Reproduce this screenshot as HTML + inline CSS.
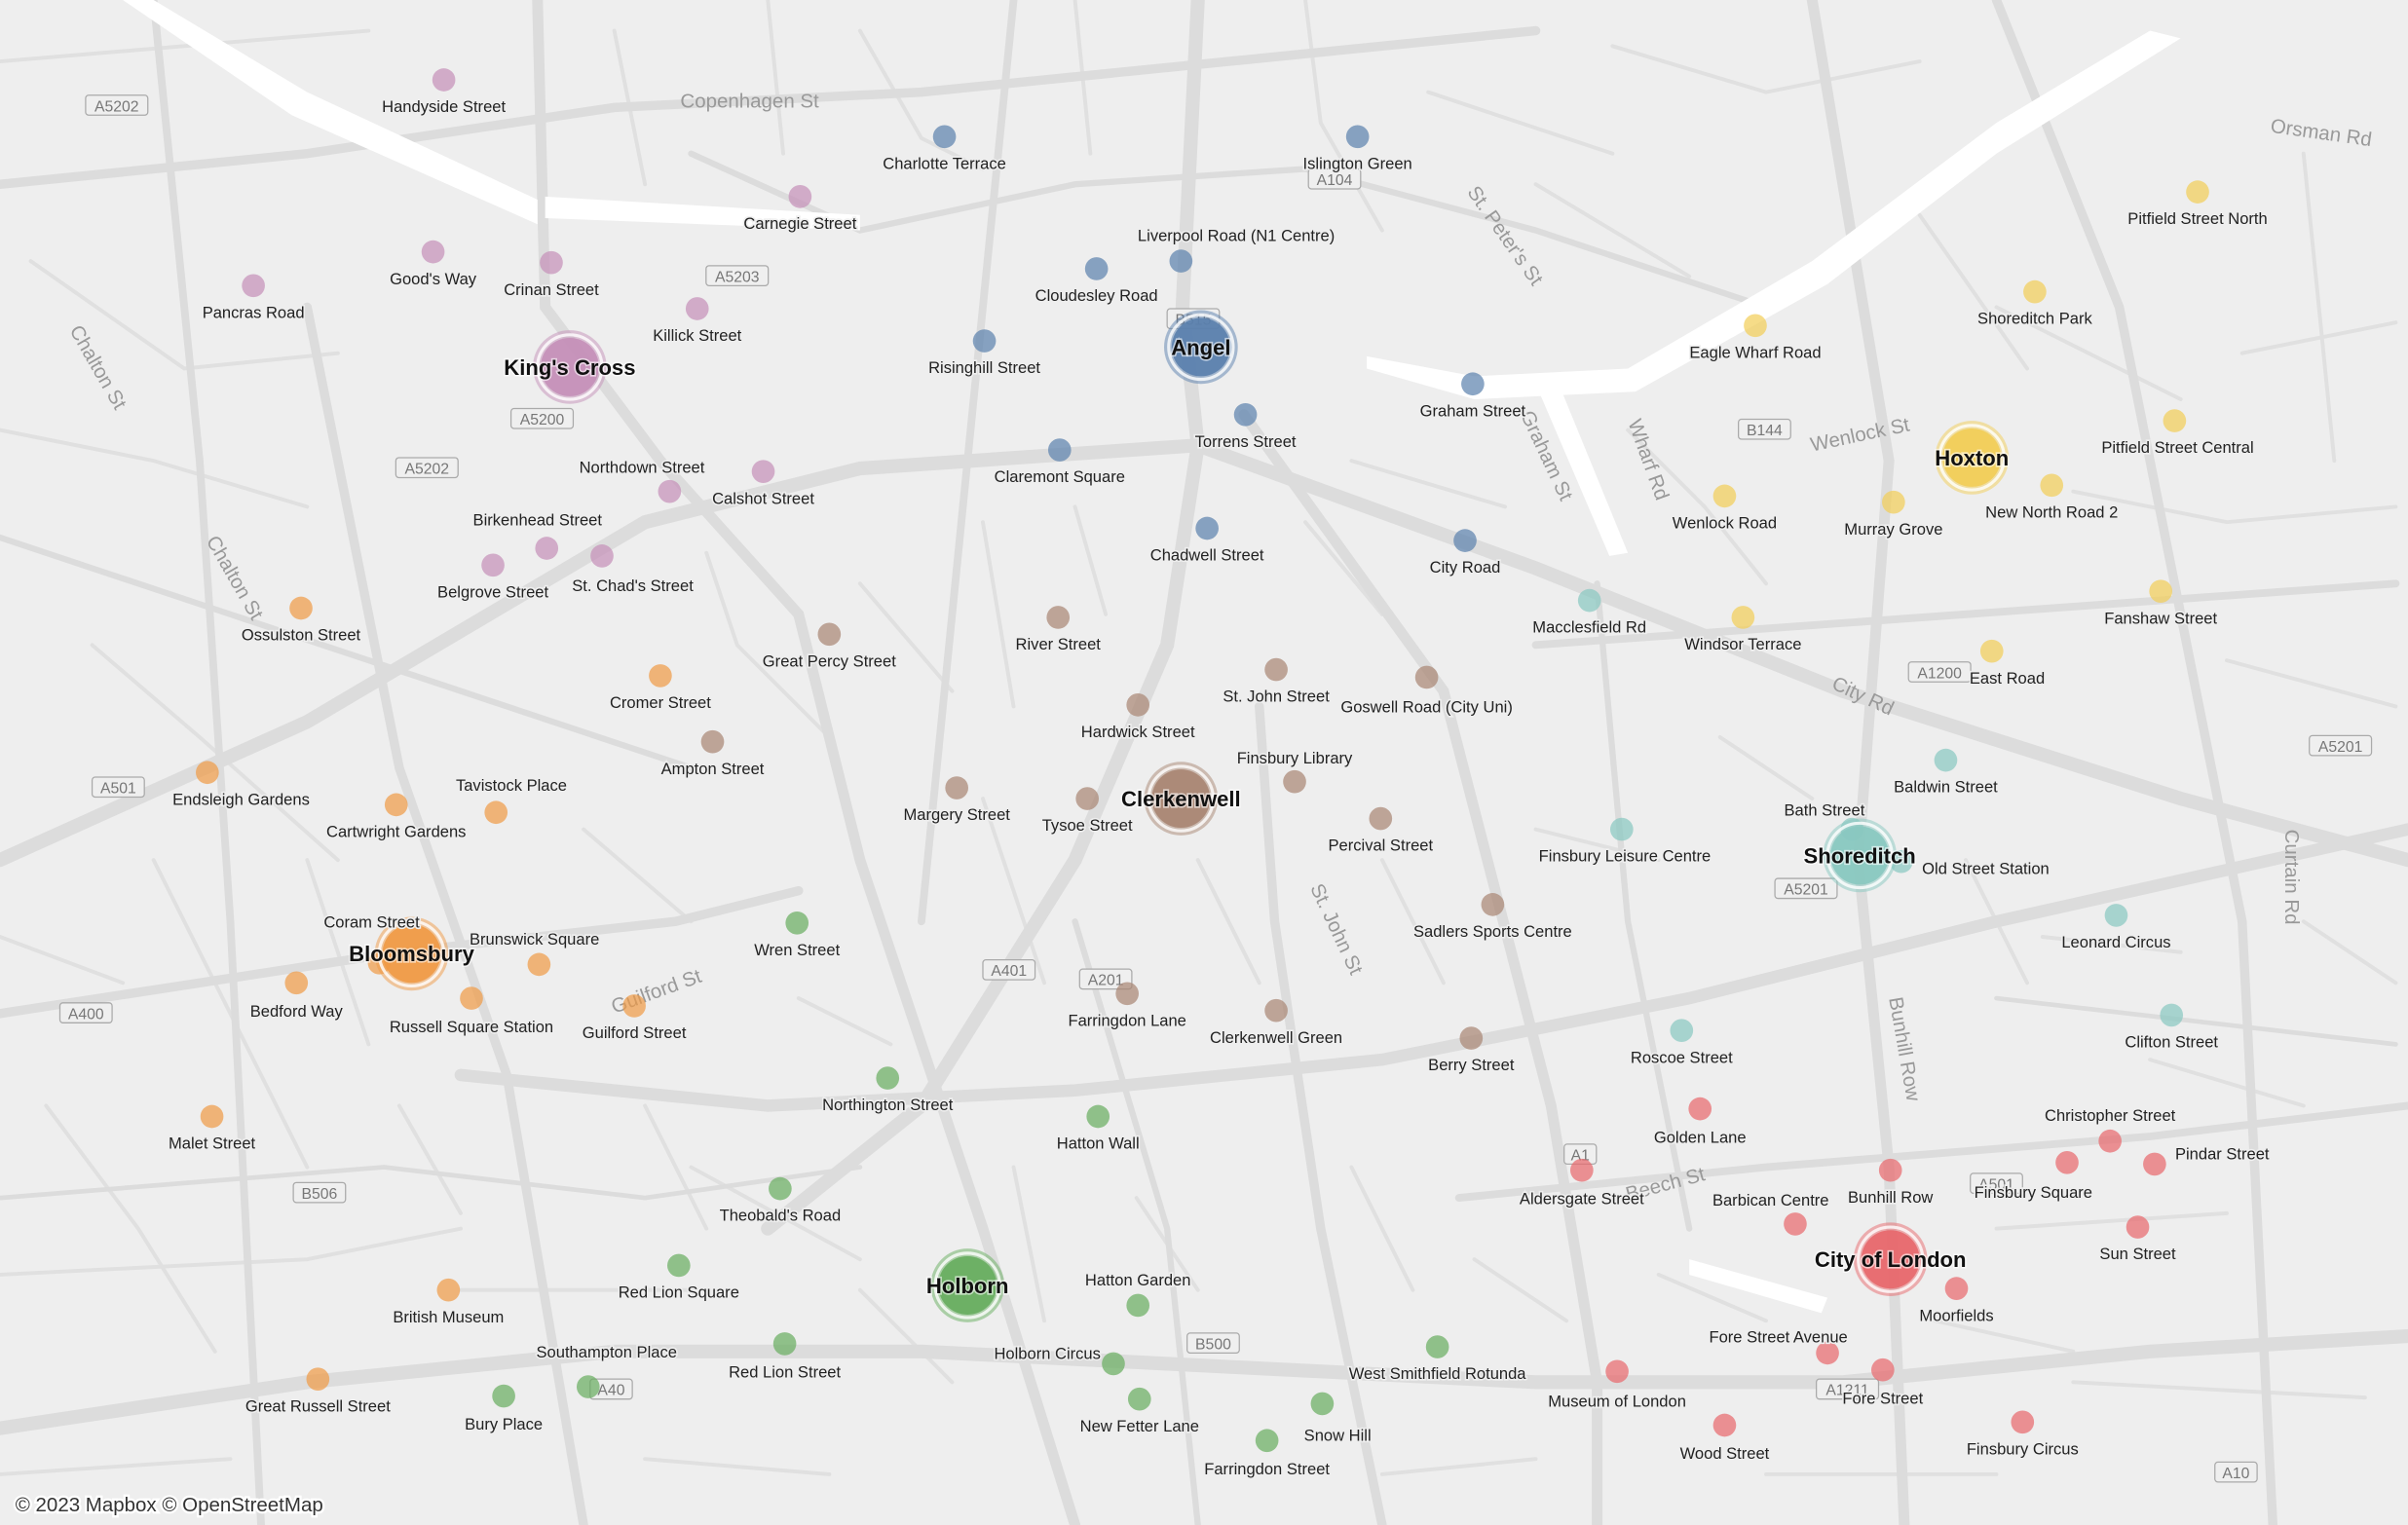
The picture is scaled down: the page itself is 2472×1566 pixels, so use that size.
<!DOCTYPE html>
<html><head><meta charset="utf-8"><style>
html,body{margin:0;padding:0;background:#eeeeee;}
svg{display:block;}
text{font-family:"Liberation Sans",sans-serif;}
.lbl{font-size:10.5px;fill:#222;paint-order:stroke;stroke:#eeeeee;stroke-width:2px;text-anchor:middle;}
.hub{font-size:14px;font-weight:bold;fill:#111;paint-order:stroke;stroke:rgba(255,255,255,0.6);stroke-width:2px;text-anchor:middle;}
.st{font-size:13px;fill:#999;}
.rd{stroke:#dcdcdc;fill:none;stroke-linecap:round;}
.mn{stroke:#e0e0e0;fill:none;stroke-width:2.5;stroke-linecap:round;}
.shield{fill:#efefef;stroke:#aaa;stroke-width:0.8;}
.sh{font-size:10px;fill:#777;text-anchor:middle;}
</style></head><body>
<svg id="map" width="2472" height="1566" viewBox="0 0 1568 993" preserveAspectRatio="none" xmlns="http://www.w3.org/2000/svg">
<rect width="1568" height="993" fill="#eeeeee"/>
<g id="roads">
<g class="minor">
<path class="mn" d="M0,40 L120,30 L240,20 M20,170 L120,240 L220,230 M0,280 L100,300 L200,330 M60,420 L130,480 L220,560 M0,610 L80,640 M30,720 L90,800 L140,880 M0,830 L200,820 L300,800"/>
<path class="mn" d="M400,20 L420,120 M500,0 L510,100 M560,20 L600,90 L640,110 M700,0 L710,100 M850,0 L860,80 L900,150 M930,60 L1050,100 M1000,120 L1100,180 M1050,30 L1150,60 L1250,40"/>
<path class="mn" d="M460,360 L480,420 L540,480 M560,380 L620,450 M640,340 L660,460 M700,330 L720,400 M850,340 L900,400 M880,300 L980,330 M1060,280 L1110,330 L1150,380"/>
<path class="mn" d="M1300,200 L1420,260 M1250,140 L1320,240 M1350,320 L1450,340 L1560,330 M1460,230 L1560,210 M1500,100 L1520,300 M1450,430 L1560,460"/>
<path class="mn" d="M380,540 L450,600 M200,560 L240,680 M100,560 L160,680 L200,760 M260,720 L300,790 M420,720 L460,800 M520,650 L580,680 M640,520 L680,640"/>
<path class="mn" d="M780,560 L820,640 M900,560 L940,640 M1000,540 L1080,560 M1120,480 L1180,520 M1280,560 L1320,640 M1330,610 L1420,620 M1500,600 L1560,640 M1400,690 L1500,720"/>
<path class="mn" d="M300,840 L450,840 M450,760 L560,820 M560,840 L620,900 M660,760 L680,860 M740,780 L780,840 M880,760 L920,840 M960,820 L1020,860 M1080,830 L1150,860 M1260,860 L1350,880 M1300,800 L1450,790"/>
<path class="mn" d="M0,960 L150,950 M420,950 L540,960 M900,960 L1000,950 M1150,960 L1300,960 M1350,900 L1540,910"/>
</g>
<path class="rd" stroke-width="9" d="M0,560 L200,470 L420,340 L560,305 L780,290 L1000,370 L1200,450 L1420,520 L1568,560"/>
<path class="rd" stroke-width="9" d="M780,0 L770,200 L780,290 L760,420 L700,560 L600,720 L500,800"/>
<path class="rd" stroke-width="9" d="M0,930 L200,900 L400,880 L600,880 L800,890 L1000,900 L1200,900 L1400,880 L1568,870"/>
<path class="rd" stroke-width="8" d="M300,700 L500,720 L700,710 L900,690 L1100,650 L1300,600 L1568,540"/>
<path class="rd" stroke-width="7" d="M810,270 L940,450 L1010,720 L1040,900 L1040,993"/>
<path class="rd" stroke-width="7" d="M1180,0 L1230,300 L1210,560 L1230,760 L1240,993"/>
<path class="rd" stroke-width="7" d="M350,0 L355,200 L430,300 L520,400 L560,560 L640,800 L700,993"/>
<path class="rd" stroke-width="6" d="M0,120 L200,100 L400,70 L600,60 L800,40 L1000,20"/>
<path class="rd" stroke-width="6" d="M1300,0 L1380,200 L1420,400 L1460,600 L1480,993"/>
<path class="rd" stroke-width="6" d="M200,200 L260,500 L330,700 L380,993"/>
<path class="rd" stroke-width="6" d="M0,660 L260,620 L440,600 L520,580"/>
<path class="rd" stroke-width="6" d="M900,993 L860,800 L830,600 L820,460"/>
<path class="rd" stroke-width="5" d="M660,0 L640,200 L620,400 L600,600"/>
<path class="rd" stroke-width="5" d="M1000,420 L1560,380"/>
<path class="rd" stroke-width="5" d="M950,780 L1150,760 L1400,740 L1568,720"/>
<path class="rd" stroke-width="5" d="M100,0 L130,300 L150,600 L170,993"/>
<path class="rd" stroke-width="4" d="M0,350 L150,400 L300,450 L450,500"/>
<path class="rd" stroke-width="4" d="M700,600 L760,800 L780,993"/>
<path class="rd" stroke-width="4" d="M1040,380 L1060,600 L1100,800"/>
<path class="rd" stroke-width="4" d="M450,100 L560,150 L700,120 L850,110 L1000,150 L1150,200"/>
<path class="rd" stroke-width="3" d="M0,780 L250,760 L420,780 L560,760"/>
<path class="rd" stroke-width="3" d="M1300,650 L1560,680"/>
<path fill="#ffffff" d="M80,0 L100,0 L200,60 L350,130 L350,146 L190,75 Z"/>
<path fill="#ffffff" d="M355,128 L560,140 L560,150 L355,142 Z"/>
<path fill="#ffffff" d="M890,232 L960,245 L1060,240 L1180,170 L1300,80 L1400,20 L1420,25 L1300,100 L1190,185 L1065,255 L960,260 L890,240 Z"/>
<path fill="#ffffff" d="M1000,250 L1015,250 L1060,360 L1048,362 Z"/>
<path fill="#ffffff" d="M1100,820 L1190,845 L1186,855 L1100,830 Z"/>
</g>
<g id="street-names">
<text class="st" x="443" y="70">Copenhagen St</text>
<text class="st" x="1478" y="86" transform="rotate(8 1478 86)">Orsman Rd</text>
<text class="st" x="1180" y="294" transform="rotate(-12 1180 294)">Wenlock St</text>
<text class="st" x="1192" y="448" transform="rotate(25 1192 448)">City Rd</text>
<text class="st" x="400" y="660" transform="rotate(-20 400 660)">Guilford St</text>
<text class="st" x="1060" y="782" transform="rotate(-15 1060 782)">Beech St</text>
<text class="st" x="955" y="125" transform="rotate(55 955 125)">St. Peter's St</text>
<text class="st" x="45" y="215" transform="rotate(60 45 215)">Chalton St</text>
<text class="st" x="134" y="352" transform="rotate(60 134 352)">Chalton St</text>
<text class="st" x="1230" y="650" transform="rotate(80 1230 650)">Bunhill Row</text>
<text class="st" x="1488" y="540" transform="rotate(90 1488 540)">Curtain Rd</text>
<text class="st" x="990" y="270" transform="rotate(65 990 270)">Graham St</text>
<text class="st" x="1060" y="275" transform="rotate(70 1060 275)">Wharf Rd</text>
<text class="st" x="853" y="578" transform="rotate(65 853 578)">St. John St</text>
</g>
<g id="shields"></g>
<g id="points"></g>
<text x="10" y="984" font-size="13" fill="#333" style="paint-order:stroke;stroke:#fff;stroke-width:3px">© 2023 Mapbox © OpenStreetMap</text>
</svg>
<script>
const groups = ["kings-cross","angel","clerkenwell","bloomsbury","holborn","shoreditch","hoxton","city"];
const groupColors = ["#c48fb8","#5a80ad","#a88572","#f09a45","#66ad5e","#88c8c0","#f2cd55","#e8676b"];
const hubNames = ["King's Cross","Angel","Clerkenwell","Bloomsbury","Holborn","Shoreditch","Hoxton","City of London"];
const hubX = [371,782,769,268,630,1211,1284,1231];
const hubY = [239,226,520,621,837,557,298,820];
const stationNames = ["Handyside Street","Carnegie Street","Good's Way","Crinan Street","Pancras Road","Killick Street","Northdown Street","Calshot Street","Birkenhead Street","Belgrove Street","St. Chad's Street",
"Charlotte Terrace","Islington Green","Liverpool Road (N1 Centre)","Cloudesley Road","Risinghill Street","Torrens Street","Graham Street","Claremont Square","Chadwell Street","City Road",
"River Street","Great Percy Street","St. John Street","Goswell Road (City Uni)","Hardwick Street","Ampton Street","Finsbury Library","Margery Street","Tysoe Street","Percival Street","Sadlers Sports Centre","Farringdon Lane","Clerkenwell Green","Berry Street",
"Ossulston Street","Cromer Street","Endsleigh Gardens","Cartwright Gardens","Tavistock Place","Coram Street","Brunswick Square","Bedford Way","Russell Square Station","Guilford Street","Malet Street","British Museum","Great Russell Street",
"Wren Street","Northington Street","Hatton Wall","Theobald's Road","Red Lion Square","Hatton Garden","West Smithfield Rotunda","Holborn Circus","Red Lion Street","Southampton Place","Bury Place","New Fetter Lane","Snow Hill","Farringdon Street",
"Macclesfield Rd","Baldwin Street","Bath Street","Finsbury Leisure Centre","Old Street Station","Leonard Circus","Clifton Street","Roscoe Street",
"Pitfield Street North","Shoreditch Park","Eagle Wharf Road","Pitfield Street Central","New North Road 2","Wenlock Road","Murray Grove","Fanshaw Street","Windsor Terrace","East Road",
"Golden Lane","Christopher Street","Pindar Street","Bunhill Row","Finsbury Square","Aldersgate Street","Barbican Centre","Sun Street","Moorfields","Fore Street Avenue","Fore Street","Museum of London","Wood Street","Finsbury Circus"];
const stationGroup = [0,0,0,0,0,0,0,0,0,0,0, 1,1,1,1,1,1,1,1,1,1, 2,2,2,2,2,2,2,2,2,2,2,2,2,2, 3,3,3,3,3,3,3,3,3,3,3,3,3, 4,4,4,4,4,4,4,4,4,4,4,4,4,4, 5,5,5,5,5,5,5,5, 6,6,6,6,6,6,6,6,6,6, 7,7,7,7,7,7,7,7,7,7,7,7,7,7];
const stationX = [289,521,282,359,165,454,436,497,356,321,392, 615,884,769,714,641,811,959,690,786,954, 689,540,831,929,741,464,843,623,708,899,972,734,831,958, 196,430,135,258,323,247,351,193,307,413,138,292,207, 519,578,715,508,442,741,936,725,511,383,328,742,861,825, 1035,1267,1206,1056,1238,1378,1414,1095, 1431,1325,1143,1416,1336,1123,1233,1407,1135,1297, 1107,1374,1403,1231,1346,1030,1169,1392,1274,1190,1226,1053,1123,1317];
const stationY = [52,128,164,171,186,201,320,307,357,368,362, 89,89,170,175,222,270,250,293,344,352, 402,413,436,441,459,483,509,513,520,533,589,647,658,676, 396,440,503,524,529,627,628,640,650,655,727,840,898, 601,702,727,774,824,850,877,888,875,903,909,911,914,938, 391,495,540,540,561,596,661,671, 125,190,212,274,316,323,327,385,402,424, 722,743,758,762,757,762,797,799,839,881,892,893,928,926];
const labelDX = [0,0,0,0,0,0,-18,0,-6,0,20, 0,0,36,0,0,0,0,0,0,0, 0,0,0,0,0,0,0,0,0,0,0,0,0,0, 0,0,22,0,10,-5,-3,0,0,0,0,0,0, 0,0,0,0,0,0,0,-43,0,12,0,0,10,0, 0,0,-18,2,55,0,0,0, 0,0,0,2,0,0,0,0,0,10, 0,0,44,0,-22,0,-16,0,0,-32,0,0,0,0];
const labelDY = [21,21,21,21,21,21,-12,21,-15,21,23, 21,21,-13,21,21,21,21,21,21,21, 21,21,21,23,21,21,-12,21,21,21,21,21,21,21, 21,21,21,21,-14,-23,-13,22,22,21,21,21,21, 21,21,21,21,21,-13,21,-3,22,-19,22,21,24,22, 21,21,-9,21,8,21,21,21, 21,21,21,21,21,21,21,21,21,21, 22,-13,-3,21,23,22,-12,21,21,-7,22,23,22,21];
const shieldNames = ["A5202","A5203","A5200","A5202","A501","A400","B506","A401","A201","B500","A40","A104","B515","B144","A1200","A5201","A5201","A1","A501","A1211","A10"];
const shieldX = [76,480,353,278,77,56,208,657,720,790,398,869,777,1149,1263,1176,1524,1029,1300,1203,1456];
const shieldY = [69,180,273,305,513,660,777,632,638,875,905,117,208,280,438,579,486,752,771,905,959];

const proj = {x: v => v, y: v => v};
const svgNS = "http://www.w3.org/2000/svg";
const shieldsG = document.getElementById('shields');
shieldNames.forEach((s,i)=>{
  const w = s.length*6.5+8, cx = proj.x(shieldX[i]), cy = proj.y(shieldY[i]);
  const r = document.createElementNS(svgNS,'rect');
  r.setAttribute('x',cx-w/2); r.setAttribute('y',cy-7); r.setAttribute('width',w); r.setAttribute('height',13); r.setAttribute('rx',2);
  r.setAttribute('class','shield');
  
  
  shieldsG.appendChild(r);
  const t = document.createElementNS(svgNS,'text');
  t.setAttribute('x',cx); t.setAttribute('y',cy+3.5); t.setAttribute('class','sh'); t.textContent = s;
  
  
  shieldsG.appendChild(t);
});
const ptsG = document.getElementById('points');
stationNames.forEach((n,i)=>{
  const cx = proj.x(stationX[i]), cy = proj.y(stationY[i]);
  const c = document.createElementNS(svgNS,'circle');
  c.setAttribute('cx',cx); c.setAttribute('cy',cy); c.setAttribute('r',7.5);
  c.setAttribute('fill',groupColors[stationGroup[i]]); c.setAttribute('fill-opacity','0.7');
  
  
  ptsG.appendChild(c);
});
hubNames.forEach((n,i)=>{
  const cx = proj.x(hubX[i]), cy = proj.y(hubY[i]);
  const o = document.createElementNS(svgNS,'circle');
  o.setAttribute('cx',cx); o.setAttribute('cy',cy); o.setAttribute('r',24);
  o.setAttribute('fill',groupColors[i]); o.setAttribute('fill-opacity','0.5');
  
  
  ptsG.appendChild(o);
  const ring = document.createElementNS(svgNS,'circle');
  ring.setAttribute('cx',cx); ring.setAttribute('cy',cy); ring.setAttribute('r',21);
  ring.setAttribute('fill','none'); ring.setAttribute('stroke','#ffffff'); ring.setAttribute('stroke-width','2'); ring.setAttribute('stroke-opacity','0.8');
  
  
  ptsG.appendChild(ring);
  const c = document.createElementNS(svgNS,'circle');
  c.setAttribute('cx',cx); c.setAttribute('cy',cy); c.setAttribute('r',19);
  c.setAttribute('fill',groupColors[i]); c.setAttribute('fill-opacity','0.9');
  
  
  ptsG.appendChild(c);
});
stationNames.forEach((n,i)=>{
  const t = document.createElementNS(svgNS,'text');
  t.setAttribute('x',proj.x(stationX[i])+labelDX[i]); t.setAttribute('y',proj.y(stationY[i])+labelDY[i]);
  t.setAttribute('class','lbl'); t.textContent = n;
  
  
  ptsG.appendChild(t);
});
hubNames.forEach((n,i)=>{
  const t = document.createElementNS(svgNS,'text');
  t.setAttribute('x',proj.x(hubX[i])); t.setAttribute('y',proj.y(hubY[i])+5);
  t.setAttribute('class','hub'); t.textContent = n;
  
  
  ptsG.appendChild(t);
});
</script>
</body></html>
